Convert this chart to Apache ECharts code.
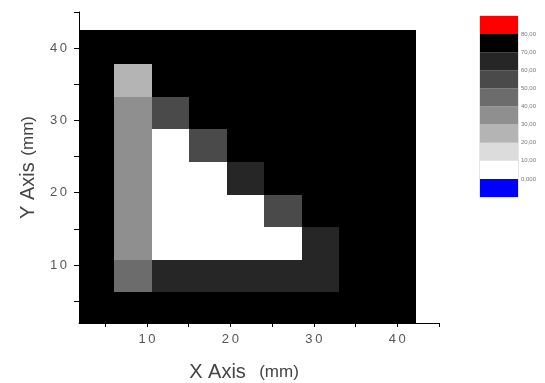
<!DOCTYPE html>
<html>
<head>
<meta charset="utf-8">
<script src="https://cdn.jsdelivr.net/npm/echarts@6/dist/echarts.min.js"></script>
<style>
html, body { margin: 0; padding: 0; background: #fff; }
#chart1 { width: 545px; height: 383px; }
</style>
</head>
<body>
<div id="chart1"></div>
<script>
// cell centres (mm)
var xCells = [3.8, 8.3, 12.8, 17.3, 21.8, 26.3, 30.8, 35.3, 39.8];
var yCells = [4.2, 8.7, 13.2, 17.7, 22.2, 26.7, 31.2, 35.7, 40.2];
// colour level of each cell, rows from bottom (y=4.2) to top
var levels = [
	[8, 8, 8, 8, 8, 8, 8, 8, 8],
	[8, 5, 7, 7, 7, 7, 7, 8, 8],
	[8, 4, 1, 1, 1, 1, 7, 8, 8],
	[8, 4, 1, 1, 1, 6, 8, 8, 8],
	[8, 4, 1, 1, 7, 8, 8, 8, 8],
	[8, 4, 1, 6, 8, 8, 8, 8, 8],
	[8, 4, 6, 8, 8, 8, 8, 8, 8],
	[8, 3, 8, 8, 8, 8, 8, 8, 8],
	[8, 8, 8, 8, 8, 8, 8, 8, 8]
];
// colour scale, bottom to top
var levelColors = ['#0000ff', '#ffffff', '#dcdcdc', '#b4b4b4', '#8f8f8f', '#6c6c6c', '#4a4a4a', '#262626', '#000000', '#ff0000'];
// labels at the boundaries of the colour scale, bottom to top
var scaleLabels = ['0,000', '10,00', '20,00', '30,00', '40,00', '50,00', '60,00', '70,00', '80,00'];
var xTickLabels = [10, 20, 30, 40];
var yTickLabels = [10, 20, 30, 40];
var minorTicks = [5, 10, 15, 20, 25, 30, 35, 40, 45];

var cellW = 4.5;
var cellData = [];
for (var r = 0; r < yCells.length; r++) {
	for (var c = 0; c < xCells.length; c++) {
		cellData.push([xCells[c], yCells[r], levels[r][c]]);
	}
}
var scaleData = [];
for (var i = 0; i < levelColors.length; i++) {
	scaleData.push([0, i + 0.5, i]);
}

function spaced(v) {
	return String(v).split('').join('\u2009');
}

var axisText = { color: '#555', fontSize: 13, fontFamily: 'Liberation Sans' };
var nameRich = {
	a: { fontSize: 20, color: '#444', fontFamily: 'Liberation Sans' },
	b: { fontSize: 17, color: '#444', fontFamily: 'Liberation Sans' }
};

var option = {
	animation: false,
	grid: [
		{ left: 79, top: 12, width: 360, height: 311, outerBoundsMode: 'none', containLabel: false },
		{ left: 480, top: 16, width: 38, height: 181, outerBoundsMode: 'none', show: true, borderColor: '#ccc', borderWidth: 1 }
	],
	xAxis: [{
		gridIndex: 0,
		type: 'value',
		min: 1.856,
		max: 45,
		name: '{a|X Axis}    {b|(mm)}',
		nameLocation: 'middle',
		nameGap: 39,
		nameTextStyle: { padding: [0, 30, 0, 0], rich: nameRich },
		axisLine: { show: true, onZero: false, lineStyle: { color: '#000', width: 1 } },
		axisTick: { show: true, length: 4, customValues: minorTicks, lineStyle: { color: '#000' } },
		axisLabel: Object.assign({ customValues: xTickLabels, margin: 10, formatter: spaced }, axisText),
		splitLine: { show: false }
	}, {
		gridIndex: 1,
		type: 'value',
		min: 0,
		max: 1,
		show: false
	}],
	yAxis: [{
		gridIndex: 0,
		type: 'value',
		min: 1.97,
		max: 45,
		name: '{a|Y Axis}  {b|(mm)}',
		nameLocation: 'middle',
		nameGap: 41,
		nameTextStyle: { rich: nameRich },
		axisLine: { show: true, onZero: false, lineStyle: { color: '#000', width: 1 } },
		axisTick: { show: true, length: 5, customValues: minorTicks, lineStyle: { color: '#000' } },
		axisLabel: Object.assign({ customValues: yTickLabels, margin: 12, formatter: spaced }, axisText),
		splitLine: { show: false }
	}, {
		gridIndex: 1,
		type: 'value',
		min: 0,
		max: 10,
		position: 'right',
		axisLine: { show: false },
		axisTick: { show: false },
		splitLine: { show: false },
		axisLabel: {
			customValues: [1, 2, 3, 4, 5, 6, 7, 8, 9],
			margin: 3,
			fontSize: 6,
			color: '#777',
			formatter: function (v) { return scaleLabels[v - 1]; }
		}
	}],
	series: [{
		type: 'custom',
		xAxisIndex: 0,
		yAxisIndex: 0,
		clip: true,
		data: cellData,
		renderItem: function (params, api) {
			var p = api.coord([api.value(0) - cellW / 2, api.value(1) + cellW / 2]);
			var s = api.size([cellW, cellW]);
			return {
				type: 'rect',
				shape: { x: Math.round(p[0]), y: Math.round(p[1]), width: Math.round(s[0]) + 1, height: Math.round(s[1]) + 1 },
				style: { fill: levelColors[api.value(2)] }
			};
		}
	}, {
		type: 'custom',
		xAxisIndex: 1,
		yAxisIndex: 1,
		data: scaleData,
		renderItem: function (params, api) {
			var p = api.coord([0, api.value(1) + 0.5]);
			var s = api.size([1, 1]);
			return {
				type: 'rect',
				shape: { x: p[0], y: p[1], width: s[0], height: s[1] },
				style: { fill: levelColors[api.value(2)] }
			};
		}
	}]
};
var chart1 = echarts.init(document.getElementById('chart1'));
chart1.setOption(option);
</script>
</body>
</html>
